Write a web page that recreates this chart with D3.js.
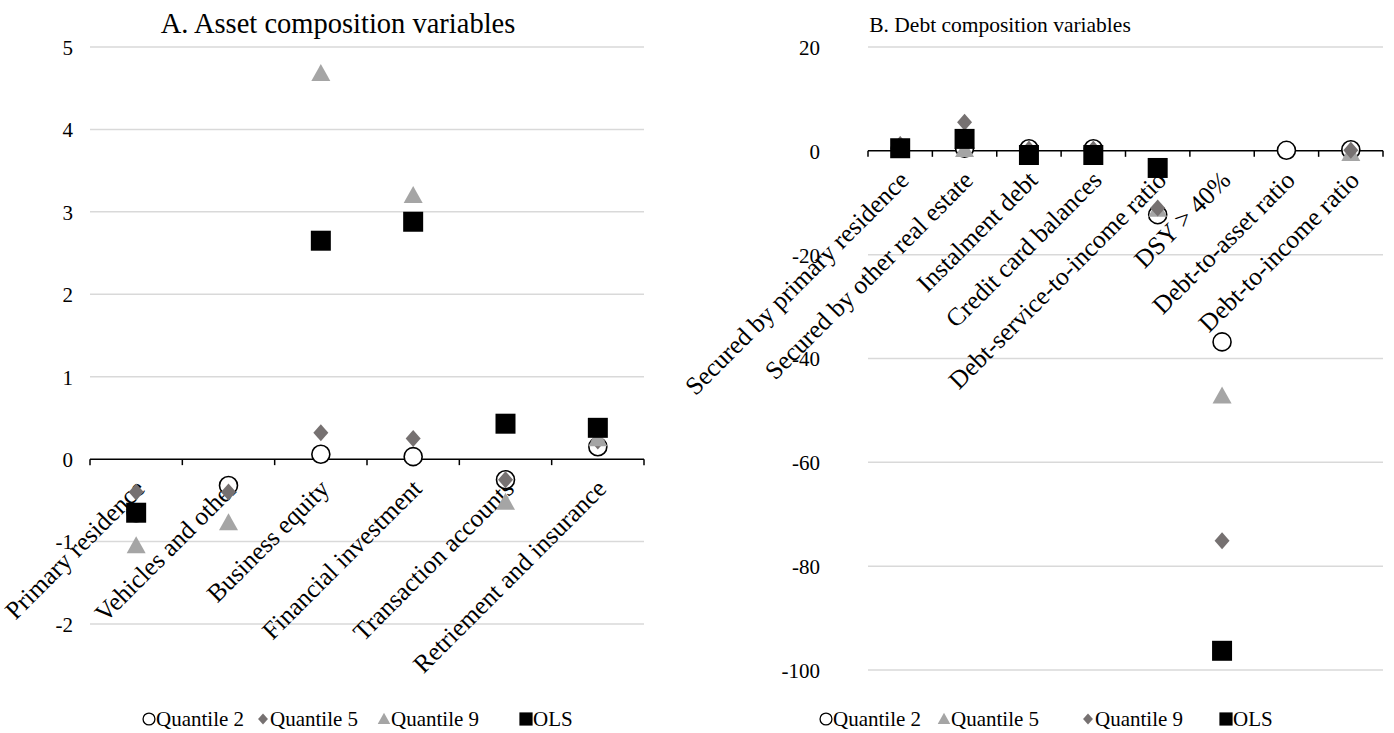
<!DOCTYPE html>
<html>
<head>
<meta charset="utf-8">
<script src="https://cdn.jsdelivr.net/npm/d3@7"></script>
<style>
  html, body { margin: 0; padding: 0; background: #fff; }
  svg { display: block; font-family: "Liberation Serif", "Times New Roman", serif; }
</style>
</head>
<body>
<svg id="chart" width="1394" height="733"></svg>
<script>
// ---------- Panel A data ----------
const assetCategories = ["Primary residence", "Vehicles and other", "Business equity",
  "Financial investment", "Transaction accounts", "Retriement and insurance"];
const assetQ2  = [-0.65, -0.32, 0.06, 0.03, -0.25, 0.15];
const assetQ5  = [-0.40, -0.40, 0.32, 0.25, -0.25, 0.22];
const assetQ9  = [-1.05, -0.77, 4.68, 3.20, -0.52, 0.25];
const assetOLS = [-0.65, null, 2.65, 2.88, 0.43, 0.38];
const assetTicks = [-2, -1, 0, 1, 2, 3, 4, 5];

// ---------- Panel B data ----------
const debtCategories = ["Secured by primary residence", "Secured by other real estate",
  "Instalment debt", "Credit card balances", "Debt-service-to-income ratio",
  "DSY > 40%", "Debt-to-asset ratio", "Debt-to-income ratio"];
const debtQ2  = [0.5, 0.5, 0.4, 0.4, -12.3, -36.8, 0.1, 0.2];
const debtQ5  = [1.0, 0.3, 0.2, 0.2, -11.2, -47.2, null, -0.5];
const debtQ9  = [1.2, 5.5, 0.3, 0.3, -11.0, -75.1, null, 0.1];
const debtOLS = [0.5, 2.3, -0.8, -0.8, -3.3, -96.3, null, null];
const debtTicks = [-100, -80, -60, -40, -20, 0, 20];

// ---------- styles ----------
const FONT = "Liberation Serif";
const COL_DIAMOND = "#767171";
const COL_TRIANGLE = "#a5a5a5";
const GRID = "#d9d9d9";

const svg = d3.select("#chart");

function markerPath(type, s) {
  const p = d3.path();
  if (type === "circle") {
    const r = 9 * s; p.moveTo(r, 0); p.arc(0, 0, r, 0, 2 * Math.PI);
  } else if (type === "diamond") {
    const w = 7.5 * s, h = 8.5 * s;
    p.moveTo(0, -h); p.lineTo(w, 0); p.lineTo(0, h); p.lineTo(-w, 0); p.closePath();
  } else if (type === "triangle") {
    const w = 9.5 * s, h = 17 * s;
    p.moveTo(0, -h * 0.55); p.lineTo(w, h * 0.45); p.lineTo(-w, h * 0.45); p.closePath();
  } else {
    const a = 10 * s; p.rect(-a, -a, 2 * a, 2 * a);
  }
  return p.toString();
}
const markerStyle = {
  circle:   { fill: "#fff", stroke: "#000", sw: 1.6 },
  diamond:  { fill: COL_DIAMOND, stroke: "none", sw: 0 },
  triangle: { fill: COL_TRIANGLE, stroke: "none", sw: 0 },
  square:   { fill: "#000", stroke: "none", sw: 0 }
};

function drawPanel(cfg) {
  const g = svg.append("g");
  const x = d3.scaleBand().domain(cfg.categories).range([cfg.x0, cfg.x1]).padding(0);
  const y = d3.scaleLinear().domain(cfg.domain).range([cfg.yBottom, cfg.yTop]);

  // gridlines
  g.append("g").selectAll("line").data(cfg.ticks.filter(t => t !== 0)).join("line")
    .attr("x1", cfg.x0).attr("x2", cfg.x1)
    .attr("y1", d => y(d)).attr("y2", d => y(d))
    .attr("stroke", GRID).attr("stroke-width", 1.5);

  // y axis labels
  const ya = d3.axisLeft(y).tickValues(cfg.ticks).tickSize(0).tickPadding(0)
    .tickFormat(d => String(d));
  const yg = g.append("g").attr("transform", `translate(${cfg.yLabelX},0)`).call(ya)
    .attr("font-family", FONT);
  yg.select(".domain").remove();
  yg.selectAll("text").attr("font-size", 21).attr("fill", "#000")
    .attr("font-family", FONT).attr("dy", "0.35em");

  // zero axis line with tick marks at band boundaries
  const y0 = y(0);
  g.append("line").attr("x1", cfg.x0).attr("x2", cfg.x1).attr("y1", y0).attr("y2", y0)
    .attr("stroke", "#000").attr("stroke-width", 1.5);
  const bounds = cfg.categories.map(c => x(c)).concat([cfg.x1]);
  g.append("g").selectAll("line").data(bounds).join("line")
    .attr("x1", d => d).attr("x2", d => d).attr("y1", y0).attr("y2", y0 + 6)
    .attr("stroke", "#000").attr("stroke-width", 1.5);

  // category labels
  g.append("g").selectAll("text").data(cfg.categories).join("text")
    .attr("transform", d => `translate(${x(d) + x.bandwidth() / 2 + cfg.lblDx},${y0 + cfg.lblDy}) rotate(-45)`)
    .attr("text-anchor", "end")
    .attr("font-size", 25.5)
    .attr("font-family", FONT)
    .text(d => d);

  // series
  cfg.series.forEach(s => {
    const st = markerStyle[s.type];
    const pts = cfg.categories.map((c, i) => ({ c, v: s.values[i] })).filter(d => d.v !== null);
    g.append("g").selectAll("path").data(pts).join("path")
      .attr("d", markerPath(s.type, 1))
      .attr("transform", d => `translate(${x(d.c) + x.bandwidth() / 2},${y(d.v)})`)
      .attr("fill", st.fill).attr("stroke", st.stroke).attr("stroke-width", st.sw);
  });

  // title
  g.append("text").attr("x", cfg.titleX).attr("y", cfg.titleY).attr("text-anchor", "middle")
    .attr("font-size", cfg.titleSize).attr("font-family", FONT).text(cfg.title);

  // legend
  const lg = g.append("g");
  cfg.legend.forEach(l => {
    const st = markerStyle[l.type];
    lg.append("path").attr("d", markerPath(l.type, 0.66))
      .attr("transform", `translate(${l.x},${cfg.legendY - 7})`)
      .attr("fill", st.fill).attr("stroke", st.stroke).attr("stroke-width", st.sw ? 1.3 : 0);
    lg.append("text").attr("x", l.x + 7).attr("y", cfg.legendY).attr("font-size", 21)
      .attr("font-family", FONT).text(l.label);
  });
}

drawPanel({
  title: "A. Asset composition variables", titleX: 338, titleY: 33, titleSize: 28.5,
  categories: assetCategories, ticks: assetTicks,
  domain: [-2, 5], yBottom: 624, yTop: 47, x0: 90, x1: 644, yLabelX: 73,
  lblDx: 10, lblDy: 31,
  series: [
    { type: "circle", values: assetQ2 },
    { type: "diamond", values: assetQ5 },
    { type: "triangle", values: assetQ9 },
    { type: "square", values: assetOLS }
  ],
  legendY: 726,
  legend: [
    { type: "circle", label: "Quantile 2", x: 149 },
    { type: "diamond", label: "Quantile 5", x: 263 },
    { type: "triangle", label: "Quantile 9", x: 384 },
    { type: "square", label: "OLS", x: 526 }
  ]
});

drawPanel({
  title: "B. Debt composition variables", titleX: 1000, titleY: 32, titleSize: 21.5,
  categories: debtCategories, ticks: debtTicks,
  domain: [-100, 20], yBottom: 670, yTop: 47, x0: 868, x1: 1383, yLabelX: 820,
  lblDx: 10, lblDy: 31,
  series: [
    { type: "circle", values: debtQ2 },
    { type: "triangle", values: debtQ5 },
    { type: "diamond", values: debtQ9 },
    { type: "square", values: debtOLS }
  ],
  legendY: 726,
  legend: [
    { type: "circle", label: "Quantile 2", x: 826 },
    { type: "triangle", label: "Quantile 5", x: 944 },
    { type: "diamond", label: "Quantile 9", x: 1088 },
    { type: "square", label: "OLS", x: 1226 }
  ]
});
</script>
</body>
</html>
